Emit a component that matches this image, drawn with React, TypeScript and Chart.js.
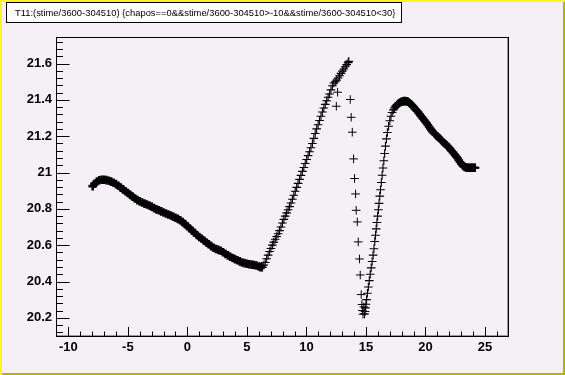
import { useEffect, useRef } from "react";
import { Chart, registerables } from "chart.js";

Chart.register(...registerables);

const TITLE = "T11:(stime/3600-304510) {chapos==0&&stime/3600-304510>-10&&stime/3600-304510<30}";

const X_MIN = -10.95;
const X_MAX = 26.93;
const Y_MIN = 20.1;
const Y_MAX = 21.746;

const xTickValues = [-10, -5, 0, 5, 10, 15, 20, 25];
const yTickValues = [20.2, 20.4, 20.6, 20.8, 21, 21.2, 21.4, 21.6];

// dense slow drift, first part
const plateau: [number, number][] = [
  [-7.95, 20.925], [-7.8, 20.938], [-7.6, 20.95], [-7.4, 20.957], [-7.2, 20.96], [-7.0, 20.96],
  [-6.8, 20.958], [-6.6, 20.955], [-6.4, 20.95], [-6.2, 20.944], [-6.0, 20.936], [-5.8, 20.927],
  [-5.6, 20.917], [-5.4, 20.907], [-5.2, 20.897], [-5.0, 20.887], [-4.8, 20.877], [-4.6, 20.867],
  [-4.4, 20.857], [-4.2, 20.848], [-4.0, 20.841], [-3.8, 20.835], [-3.6, 20.829], [-3.4, 20.824],
  [-3.2, 20.818], [-3.0, 20.812], [-2.8, 20.804], [-2.6, 20.797], [-2.4, 20.792], [-2.2, 20.786],
  [-2.0, 20.78], [-1.8, 20.774], [-1.6, 20.769], [-1.4, 20.763], [-1.2, 20.757], [-1.0, 20.751],
  [-0.8, 20.745], [-0.6, 20.737], [-0.4, 20.727], [-0.2, 20.716], [0.0, 20.704], [0.2, 20.692],
  [0.4, 20.68], [0.6, 20.668], [0.8, 20.656], [1.0, 20.645], [1.2, 20.635], [1.4, 20.625],
  [1.6, 20.615], [1.8, 20.605], [2.0, 20.595], [2.2, 20.586], [2.4, 20.579], [2.6, 20.574],
  [2.8, 20.569], [3.0, 20.561], [3.2, 20.552], [3.4, 20.544], [3.6, 20.536], [3.8, 20.529],
  [4.0, 20.523], [4.2, 20.517], [4.4, 20.511], [4.6, 20.505], [4.8, 20.501], [5.0, 20.498],
  [5.2, 20.495], [5.4, 20.493], [5.6, 20.491], [5.8, 20.488], [6.0, 20.483], [6.15, 20.479],
];

// steep rise
const rise: [number, number][] = [
  [6.3, 20.478], [6.42, 20.49], [6.54, 20.505], [6.66, 20.525], [6.78, 20.545], [6.9, 20.565],
  [7.02, 20.582], [7.14, 20.6], [7.26, 20.617], [7.38, 20.633], [7.5, 20.648], [7.62, 20.663],
  [7.74, 20.68], [7.86, 20.7], [7.98, 20.722], [8.1, 20.742], [8.22, 20.76], [8.34, 20.778],
  [8.46, 20.795], [8.58, 20.812], [8.7, 20.832], [8.82, 20.853], [8.94, 20.875], [9.06, 20.897],
  [9.18, 20.918], [9.3, 20.94], [9.42, 20.962], [9.54, 20.984], [9.66, 21.006], [9.78, 21.028],
  [9.9, 21.05], [10.02, 21.072], [10.14, 21.093], [10.26, 21.114], [10.38, 21.136], [10.5, 21.16],
  [10.62, 21.188], [10.74, 21.215], [10.86, 21.24], [10.98, 21.263], [11.1, 21.286], [11.22, 21.31],
  [11.34, 21.333], [11.46, 21.355], [11.58, 21.375], [11.7, 21.395], [11.82, 21.414], [11.94, 21.432],
  [12.06, 21.455], [12.18, 21.478], [12.3, 21.493], [12.42, 21.5], [12.54, 21.508], [12.66, 21.52],
  [12.78, 21.533], [12.9, 21.546], [13.02, 21.558], [13.14, 21.57], [13.26, 21.582], [13.38, 21.594],
  [13.5, 21.605], [13.56, 21.612],
];

// sparse fall
const drop: [number, number][] = [
  [12.51, 21.365], [12.62, 21.442], [13.68, 21.402], [13.76, 21.304], [13.85, 21.222], [13.96, 21.075],
  [14.04, 20.967], [14.13, 20.882], [14.18, 20.792], [14.27, 20.728], [14.35, 20.618], [14.46, 20.524],
  [14.52, 20.436], [14.6, 20.328], [14.66, 20.273], [14.7, 20.24], [14.75, 20.22], [14.82, 20.26],
];

// recovery rise
const recover: [number, number][] = [
  [14.88, 20.222], [14.92, 20.235], [14.96, 20.255], [15.0, 20.275], [15.05, 20.3], [15.12, 20.335],
  [15.2, 20.37], [15.28, 20.405], [15.36, 20.44], [15.44, 20.475], [15.52, 20.51], [15.6, 20.545],
  [15.67, 20.58], [15.74, 20.62], [15.8, 20.655], [15.86, 20.69], [15.92, 20.725], [15.98, 20.76],
  [16.04, 20.795], [16.1, 20.83], [16.16, 20.87], [16.22, 20.905], [16.29, 20.945], [16.36, 20.985],
  [16.43, 21.025], [16.5, 21.065], [16.57, 21.105], [16.64, 21.145], [16.72, 21.185], [16.8, 21.22],
  [16.9, 21.255], [17.0, 21.285], [17.1, 21.31], [17.2, 21.33], [17.3, 21.345], [17.4, 21.356],
];

// dense decay
const decay: [number, number][] = [
  [17.5, 21.365], [17.6, 21.372], [17.7, 21.378], [17.8, 21.383], [17.9, 21.387], [18.0, 21.39],
  [18.1, 21.392], [18.2, 21.393], [18.3, 21.393], [18.4, 21.392], [18.5, 21.39], [18.6, 21.386],
  [18.7, 21.381], [18.8, 21.375], [18.9, 21.368], [19.0, 21.36], [19.1, 21.353], [19.2, 21.346],
  [19.3, 21.338], [19.4, 21.33], [19.5, 21.322], [19.6, 21.313], [19.7, 21.304], [19.8, 21.296],
  [19.9, 21.288], [20.0, 21.28], [20.1, 21.271], [20.2, 21.262], [20.3, 21.252], [20.4, 21.242],
  [20.5, 21.233], [20.6, 21.225], [20.7, 21.218], [20.8, 21.212], [20.9, 21.206], [21.0, 21.2],
  [21.1, 21.193], [21.2, 21.186], [21.3, 21.179], [21.4, 21.173], [21.5, 21.167], [21.6, 21.161],
  [21.7, 21.155], [21.8, 21.149], [21.9, 21.142], [22.0, 21.135], [22.1, 21.127], [22.2, 21.119],
  [22.3, 21.111], [22.4, 21.103], [22.5, 21.095], [22.6, 21.087], [22.7, 21.078], [22.8, 21.068],
  [22.9, 21.058], [23.0, 21.048], [23.1, 21.04], [23.2, 21.034], [23.3, 21.03], [23.4, 21.028],
  [23.5, 21.027], [23.6, 21.026], [23.7, 21.026], [23.8, 21.026], [23.9, 21.026], [24.0, 21.026],
  [24.1, 21.026], [24.16, 21.026],
];

const BG = "#f5f0f5";
const toPts = (a: [number, number][]) => a.map(([x, y]) => ({ x, y }));

const rootPlugin = {
  id: "rootStyle",
  beforeDraw(chart: any) {
    const { ctx, width, height } = chart;
    ctx.save();
    ctx.fillStyle = BG;
    ctx.fillRect(0, 0, width, height);
    // title box
    ctx.fillStyle = "#ffffff";
    ctx.fillRect(6, 2, 396, 21);
    ctx.strokeStyle = "#000";
    ctx.lineWidth = 1;
    ctx.strokeRect(6.5, 2.5, 395, 20);
    ctx.fillStyle = "#000";
    ctx.font = '9.4px "Liberation Sans", Arial, sans-serif';
    ctx.textBaseline = "middle";
    ctx.textAlign = "left";
    ctx.fillText(TITLE, 15, 13);
    // canvas borders
    ctx.fillStyle = "#f8f820";
    ctx.fillRect(0, 0, width, 2);
    ctx.fillRect(0, 0, 2, height);
    ctx.fillStyle = "#b3b300";
    ctx.fillRect(width - 2, 2, 2, height - 2);
    ctx.fillRect(2, height - 2, width - 2, 2);
    ctx.restore();
  },
  afterDatasetsDraw(chart: any) {
    const { ctx } = chart;
    const xs = chart.scales.x;
    const ys = chart.scales.y;
    const L = 56, R = 508, T = 37, B = 336;
    ctx.save();
    ctx.lineWidth = 1;
    ctx.strokeStyle = "#9a9a9a";
    ctx.beginPath();
    ctx.moveTo(R - 1 + 0.5, T + 1);
    ctx.lineTo(R - 1 + 0.5, B);
    ctx.moveTo(L + 1, B - 1 + 0.5);
    ctx.lineTo(R, B - 1 + 0.5);
    ctx.stroke();
    ctx.strokeStyle = "#000";
    ctx.strokeRect(L + 0.5, T + 0.5, R - L, B - T);
    ctx.beginPath();
    // x ticks
    for (let v = Math.ceil(X_MIN); v <= X_MAX; v += 1) {
      const px = Math.round(xs.getPixelForValue(v)) + 0.5;
      const len = v % 5 === 0 ? 9 : 4.5;
      ctx.moveTo(px, B);
      ctx.lineTo(px, B - len);
    }
    // y ticks
    for (let k = Math.ceil(Y_MIN / 0.04 - 1e-6); k * 0.04 <= Y_MAX; k++) {
      const v = k * 0.04;
      const py = Math.round(ys.getPixelForValue(v)) + 0.5;
      const major = Math.abs(Math.round(v * 5) - v * 5) < 1e-6;
      const len = major ? 13.5 : 7;
      ctx.moveTo(L, py);
      ctx.lineTo(L + len, py);
    }
    ctx.stroke();
    ctx.restore();
  },
};

export default function App() {
  const ref = useRef<HTMLCanvasElement | null>(null);
  useEffect(() => {
    if (!ref.current) return;
    const marker = {
      pointStyle: "cross" as const,
      pointRadius: 4.3,
      pointHoverRadius: 4.3,
      borderColor: "#000",
      backgroundColor: "#000",
      showLine: false,
    };
    const chart = new Chart(ref.current, {
      type: "scatter",
      data: {
        datasets: [
          { ...marker, data: toPts(plateau), borderWidth: 2.6, pointBorderWidth: 2.6 },
          { ...marker, data: toPts(rise), borderWidth: 1.1, pointBorderWidth: 1.1 },
          { ...marker, data: toPts(drop), borderWidth: 1, pointBorderWidth: 1 },
          { ...marker, data: toPts(recover), borderWidth: 1.1, pointBorderWidth: 1.1 },
          { ...marker, data: toPts(decay), borderWidth: 2, pointBorderWidth: 2 },
        ],
      },
      options: {
        responsive: false,
        animation: false,
        devicePixelRatio: 1,
        layout: { padding: { left: 0, top: 37, right: 57, bottom: 0 } },
        plugins: { legend: { display: false }, tooltip: { enabled: false }, title: { display: false } },
        scales: {
          x: {
            type: "linear",
            min: X_MIN,
            max: X_MAX,
            grid: { display: false, drawTicks: false },
            border: { display: false },
            afterBuildTicks: (s: any) => { s.ticks = xTickValues.map((v) => ({ value: v })); },
            afterFit: (s: any) => { s.height = 39; },
            ticks: {
              autoSkip: false,
              maxRotation: 0,
              padding: 4,
              color: "#000",
              font: { family: '"Liberation Sans", Arial, sans-serif', size: 13, weight: "bold" },
              callback: (v: any) => String(Number(Number(v).toFixed(2))),
            },
          },
          y: {
            type: "linear",
            min: Y_MIN,
            max: Y_MAX,
            grid: { display: false, drawTicks: false },
            border: { display: false },
            afterBuildTicks: (s: any) => { s.ticks = yTickValues.map((v) => ({ value: v })); },
            afterFit: (s: any) => { s.width = 57; },
            ticks: {
              autoSkip: false,
              padding: 5,
              color: "#000",
              font: { family: '"Liberation Sans", Arial, sans-serif', size: 13, weight: "bold" },
              callback: (v: any) => String(Number(Number(v).toFixed(2))),
            },
          },
        },
      },
      plugins: [rootPlugin],
    });
    return () => chart.destroy();
  }, []);
  return (
    <div style={{ position: "absolute", left: 0, top: 0, width: 565, height: 375 }}>
      <canvas ref={ref} width={565} height={375} style={{ display: "block", width: 565, height: 375 }} />
    </div>
  );
}
